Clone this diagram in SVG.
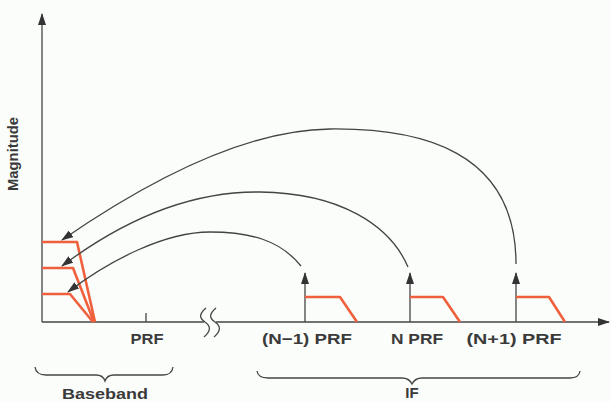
<svg xmlns="http://www.w3.org/2000/svg" width="611" height="402" viewBox="0 0 611 402">
<style>
.ln{fill:none;stroke:#444;stroke-width:1.3}
.or{fill:none;stroke:#f0603c;stroke-width:2.6;stroke-linejoin:round}
.tx{font-family:"Liberation Sans",Arial,sans-serif;font-weight:bold;font-size:15px;fill:#3a3a3a}
</style>
<defs>
<marker id="ah" viewBox="0 0 12 8" refX="11" refY="4" markerWidth="12" markerHeight="8" markerUnits="userSpaceOnUse" orient="auto">
<path d="M0,0 L12,4 L0,8 Z" fill="#333"/>
</marker>
</defs>
<rect width="611" height="402" fill="#fbfdfb"/>
<g id="axes">
<path class="ln" d="M42,322 L42,14" marker-end="url(#ah)"/>
<path class="ln" d="M42,322 L204,322"/>
<path class="ln" d="M216,322 L609,322" marker-end="url(#ah)"/>
<path class="ln" d="M146,313 L146,322"/>
<path class="ln" d="M206,308 C199,314 199,318 205,322 C211,326 211,331 204,337"/>
<path class="ln" d="M216,308 C209,314 209,318 215,322 C221,326 221,331 214,337"/>
</g>
<g id="baseband-spectra">
<path class="or" d="M42,242 L77,242 L95,322"/>
<path class="or" d="M42,268 L73,268 L94,322"/>
<path class="or" d="M42,294 L70,294 L93,322"/>
</g>
<g id="if-spectra">
<path class="ln" d="M305,322 L305,273" marker-end="url(#ah)"/>
<path class="ln" d="M410,322 L410,273" marker-end="url(#ah)"/>
<path class="ln" d="M516,322 L516,273" marker-end="url(#ah)"/>
<path class="or" d="M305,297 L340,297 L357,322"/>
<path class="or" d="M410,297 L443,297 L460,322"/>
<path class="or" d="M516,297 L549,297 L565,322"/>
</g>
<g id="connectors">
<path class="ln" d="M516,264 C516,150 420,128 330,129 C230,130 120,200 62,240" marker-end="url(#ah)"/>
<path class="ln" d="M408,267 C390,225 340,193 260,192 C180,191 110,230 62,266" marker-end="url(#ah)"/>
<path class="ln" d="M301,266 C280,240 250,232 210,232 C165,232 110,260 68,292" marker-end="url(#ah)"/>
</g>
<g id="braces">
<path class="ln" d="M35,367 Q36,375 46,375 L96,375 Q103,375 105,381 Q107,375 114,375 L163,375 Q172,375 173,367"/>
<path class="ln" d="M257,371 Q258,378 268,378 L402,378 Q409,378 412,384 Q415,378 422,378 L570,378 Q579,378 580,371"/>
</g>
<g id="labels">
<text class="tx" transform="translate(18,154) rotate(-90)" text-anchor="middle" textLength="74" lengthAdjust="spacingAndGlyphs">Magnitude</text>
<text class="tx" x="147" y="344" text-anchor="middle" textLength="33" lengthAdjust="spacingAndGlyphs">PRF</text>
<text class="tx" x="307" y="344" text-anchor="middle" textLength="90" lengthAdjust="spacingAndGlyphs">(N−1) PRF</text>
<text class="tx" x="417" y="344" text-anchor="middle" textLength="52" lengthAdjust="spacingAndGlyphs">N PRF</text>
<text class="tx" x="514" y="344" text-anchor="middle" textLength="95" lengthAdjust="spacingAndGlyphs">(N+1) PRF</text>
<text class="tx" x="105" y="399" text-anchor="middle" textLength="86" lengthAdjust="spacingAndGlyphs">Baseband</text>
<text class="tx" x="412" y="398" text-anchor="middle">IF</text>
</g>
</svg>
